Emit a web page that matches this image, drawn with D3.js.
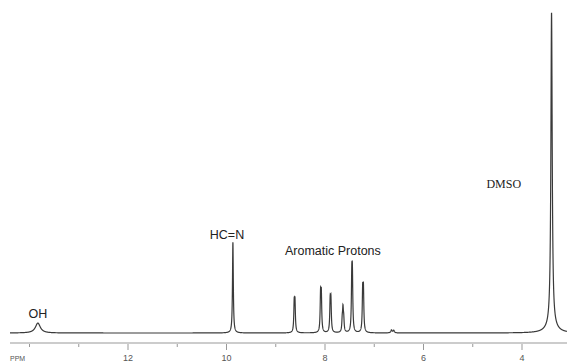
<!DOCTYPE html>
<html><head><meta charset="utf-8">
<script src="https://cdn.jsdelivr.net/npm/d3@7"></script>
<style>body{margin:0;background:#fff}svg{display:block}</style>
</head><body>
<svg id="c" width="567" height="362"></svg>
<script>
// Peak list (ppm, intensity, half-width in ppm)
const peakPpm    = [13.83, 9.87, 8.625, 8.610, 8.090, 8.075, 7.895, 7.880, 7.650, 7.635, 7.620, 7.456, 7.444, 7.235, 7.220, 6.650, 6.605, 3.40, 3.40];
const peakHeight = [3.1,   28.3, 8.4,   8.6,   10.6,  10.8,  8.9,   9.1,   3.4,   6.6,   3.6,   15.0,  15.2,  11.8,  12.0,  0.9,   0.8,   98,   1.9];
const peakWidth  = [0.06,  0.010,0.010, 0.010, 0.010, 0.010, 0.010, 0.010, 0.010, 0.010, 0.010, 0.010, 0.010, 0.010, 0.010, 0.015, 0.015, 0.016, 0.12];
const peakLabels = ["OH", "HC=N", "Aromatic Protons", "DMSO"];
const labelPpm   = [13.83, 9.99, 7.84, 4.37];
const labelInt   = [4.6, 29.3, 24.3, 45.2];
const tickValues = [14, 13, 12, 11, 10, 9, 8, 7, 6, 5, 4];
const tickLabels = ["", "", "12", "", "10", "", "8", "", "6", "", "4"];
const axisTitle  = "PPM";

const svg = d3.select("#c");
const x = d3.scaleLinear().domain([12, 4]).range([128, 522]);
const y = d3.scaleLinear().domain([0, 100]).range([333, 12]);

const ppmMin = x.invert(567), ppmMax = x.invert(10);
const pts = [];
const step = 0.0015;
for (let p = ppmMax; p >= ppmMin; p -= step) {
  let v = 0;
  for (let i = 0; i < peakPpm.length; i++) {
    const d = (p - peakPpm[i]) / peakWidth[i];
    v += peakHeight[i] / (1 + d * d);
  }
  pts.push([p, v]);
}
const line = d3.line().x(d => x(d[0])).y(d => y(d[1]));
svg.append("path").attr("d", line(pts)).attr("fill", "none")
  .attr("stroke", "#3a3a3a").attr("stroke-width", 1.2);

// axis
const ay = 343;
svg.append("line").attr("x1", 10).attr("x2", 567).attr("y1", ay).attr("y2", ay)
  .attr("stroke", "#999").attr("stroke-width", 1);
tickValues.forEach((t, i) => {
  svg.append("line").attr("x1", x(t)).attr("x2", x(t)).attr("y1", ay + 1).attr("y2", ay + (tickLabels[i] ? 7 : 4))
    .attr("stroke", "#999").attr("stroke-width", 1);
  if (tickLabels[i]) svg.append("text").attr("x", x(t)).attr("y", 361).attr("text-anchor", "middle")
    .attr("font-family", "Liberation Sans, Arial, sans-serif").attr("font-size", 9).attr("fill", "#555").text(tickLabels[i]);
});
svg.append("text").attr("x", 10).attr("y", 361).attr("font-family", "Liberation Sans, Arial, sans-serif")
  .attr("font-size", 7).attr("fill", "#555").text(axisTitle);

peakLabels.forEach((s, i) => {
  const serif = s === "DMSO";
  svg.append("text").attr("x", x(labelPpm[i])).attr("y", y(labelInt[i])).attr("text-anchor", "middle")
    .attr("font-family", serif ? "Liberation Serif, Times New Roman, serif" : "Liberation Sans, Arial, sans-serif")
    .attr("font-size", serif ? 12 : 12.5).attr("fill", "#222").text(s);
});
</script>
</body></html>
